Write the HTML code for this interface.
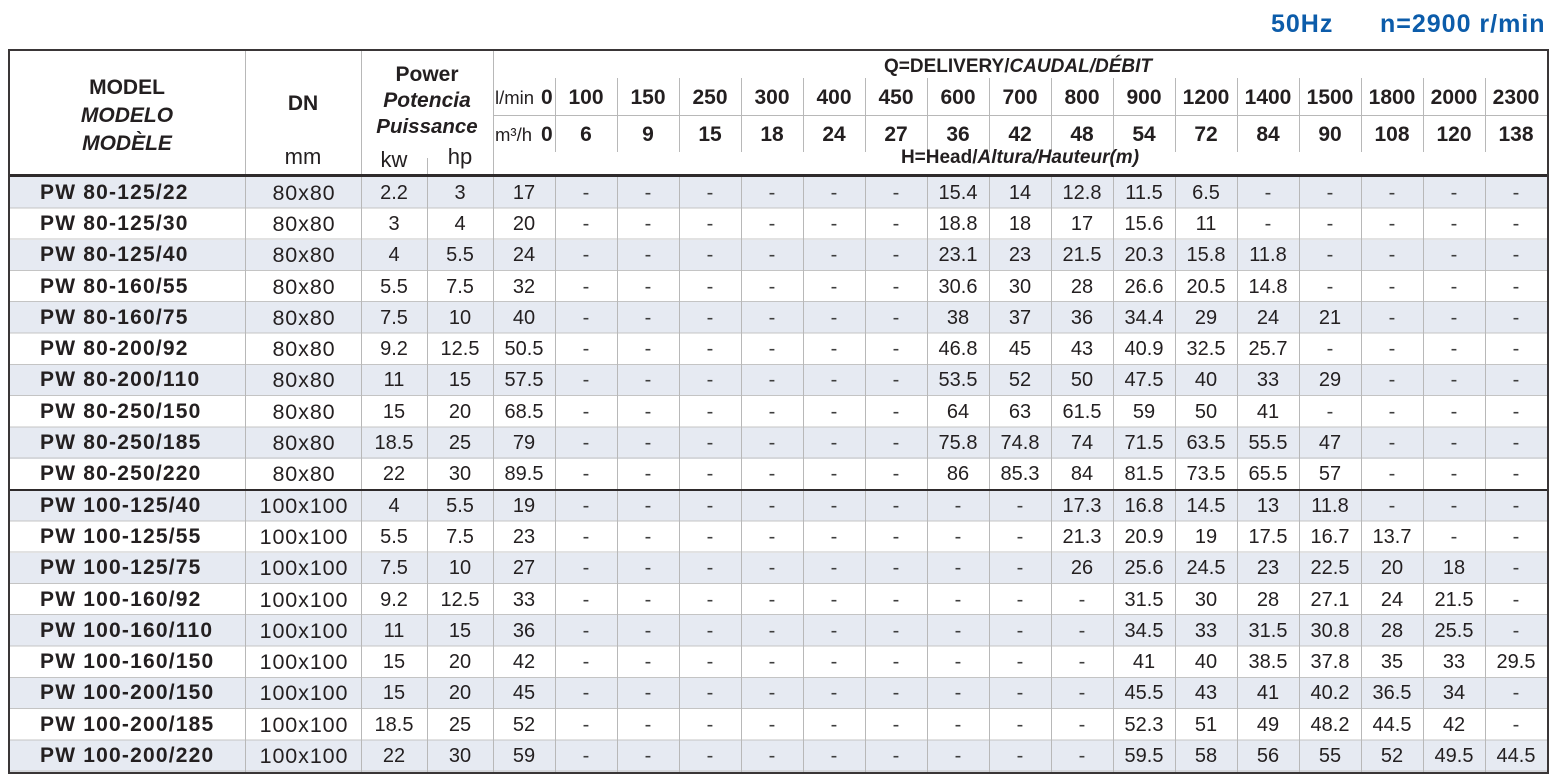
<!DOCTYPE html>
<html><head><meta charset="utf-8">
<style>
*{margin:0;padding:0;box-sizing:border-box}
html,body{width:1557px;height:781px;background:#fff;overflow:hidden}
body{position:relative;font-family:"Liberation Sans",sans-serif;color:#231f20}
.c{position:absolute;width:300px;margin-left:-150px;text-align:center;line-height:24px;margin-top:-12px;white-space:nowrap}
.l{position:absolute;line-height:24px;margin-top:-12px;white-space:nowrap}
.b21{font-weight:bold;font-size:21px}
.bi{font-weight:bold;font-style:italic;font-size:21px}
.r22{font-size:22px}
.v{position:absolute;width:1px;background:#b8b8b8}
.hn{position:absolute;left:555px;width:992px;border-collapse:collapse;table-layout:fixed}
.hn td{text-align:center;font-weight:bold;font-size:21px;padding:0;white-space:nowrap}
table.b{position:absolute;left:10px;top:177px;width:1537px;border-collapse:collapse;table-layout:fixed}
table.b td{height:31.3px;padding:0;text-align:center;font-size:20px;line-height:22px;vertical-align:middle;overflow:hidden;white-space:nowrap}
table.b td:first-child{text-align:left;padding-left:30px;font-weight:bold;font-size:21px;letter-spacing:1.2px}
table.b td:nth-child(2){font-size:21.5px;letter-spacing:0.9px;padding-left:1px}
tr.g td{background:#e6eaf2}
.d{color:#3e3e3e}
</style></head><body>

<div style="position:absolute;left:1271px;top:9px;font-weight:bold;font-size:25px;line-height:30px;color:#0c5caa;letter-spacing:1px">50Hz</div>
<div style="position:absolute;left:1380px;top:9px;font-weight:bold;font-size:25px;line-height:30px;color:#0c5caa;letter-spacing:1px">n=2900 r/min</div>

<table class="b">
<colgroup><col style="width:236px"><col style="width:115px"><col style="width:66px"><col style="width:66px"><col style="width:62px"><col span="16" style="width:62px"></colgroup>
<tr class="g"><td>PW 80-125/22</td><td>80x80</td><td>2.2</td><td>3</td><td>17</td><td class="d">-</td><td class="d">-</td><td class="d">-</td><td class="d">-</td><td class="d">-</td><td class="d">-</td><td>15.4</td><td>14</td><td>12.8</td><td>11.5</td><td>6.5</td><td class="d">-</td><td class="d">-</td><td class="d">-</td><td class="d">-</td><td class="d">-</td></tr>
<tr><td>PW 80-125/30</td><td>80x80</td><td>3</td><td>4</td><td>20</td><td class="d">-</td><td class="d">-</td><td class="d">-</td><td class="d">-</td><td class="d">-</td><td class="d">-</td><td>18.8</td><td>18</td><td>17</td><td>15.6</td><td>11</td><td class="d">-</td><td class="d">-</td><td class="d">-</td><td class="d">-</td><td class="d">-</td></tr>
<tr class="g"><td>PW 80-125/40</td><td>80x80</td><td>4</td><td>5.5</td><td>24</td><td class="d">-</td><td class="d">-</td><td class="d">-</td><td class="d">-</td><td class="d">-</td><td class="d">-</td><td>23.1</td><td>23</td><td>21.5</td><td>20.3</td><td>15.8</td><td>11.8</td><td class="d">-</td><td class="d">-</td><td class="d">-</td><td class="d">-</td></tr>
<tr><td>PW 80-160/55</td><td>80x80</td><td>5.5</td><td>7.5</td><td>32</td><td class="d">-</td><td class="d">-</td><td class="d">-</td><td class="d">-</td><td class="d">-</td><td class="d">-</td><td>30.6</td><td>30</td><td>28</td><td>26.6</td><td>20.5</td><td>14.8</td><td class="d">-</td><td class="d">-</td><td class="d">-</td><td class="d">-</td></tr>
<tr class="g"><td>PW 80-160/75</td><td>80x80</td><td>7.5</td><td>10</td><td>40</td><td class="d">-</td><td class="d">-</td><td class="d">-</td><td class="d">-</td><td class="d">-</td><td class="d">-</td><td>38</td><td>37</td><td>36</td><td>34.4</td><td>29</td><td>24</td><td>21</td><td class="d">-</td><td class="d">-</td><td class="d">-</td></tr>
<tr><td>PW 80-200/92</td><td>80x80</td><td>9.2</td><td>12.5</td><td>50.5</td><td class="d">-</td><td class="d">-</td><td class="d">-</td><td class="d">-</td><td class="d">-</td><td class="d">-</td><td>46.8</td><td>45</td><td>43</td><td>40.9</td><td>32.5</td><td>25.7</td><td class="d">-</td><td class="d">-</td><td class="d">-</td><td class="d">-</td></tr>
<tr class="g"><td>PW 80-200/110</td><td>80x80</td><td>11</td><td>15</td><td>57.5</td><td class="d">-</td><td class="d">-</td><td class="d">-</td><td class="d">-</td><td class="d">-</td><td class="d">-</td><td>53.5</td><td>52</td><td>50</td><td>47.5</td><td>40</td><td>33</td><td>29</td><td class="d">-</td><td class="d">-</td><td class="d">-</td></tr>
<tr><td>PW 80-250/150</td><td>80x80</td><td>15</td><td>20</td><td>68.5</td><td class="d">-</td><td class="d">-</td><td class="d">-</td><td class="d">-</td><td class="d">-</td><td class="d">-</td><td>64</td><td>63</td><td>61.5</td><td>59</td><td>50</td><td>41</td><td class="d">-</td><td class="d">-</td><td class="d">-</td><td class="d">-</td></tr>
<tr class="g"><td>PW 80-250/185</td><td>80x80</td><td>18.5</td><td>25</td><td>79</td><td class="d">-</td><td class="d">-</td><td class="d">-</td><td class="d">-</td><td class="d">-</td><td class="d">-</td><td>75.8</td><td>74.8</td><td>74</td><td>71.5</td><td>63.5</td><td>55.5</td><td>47</td><td class="d">-</td><td class="d">-</td><td class="d">-</td></tr>
<tr><td>PW 80-250/220</td><td>80x80</td><td>22</td><td>30</td><td>89.5</td><td class="d">-</td><td class="d">-</td><td class="d">-</td><td class="d">-</td><td class="d">-</td><td class="d">-</td><td>86</td><td>85.3</td><td>84</td><td>81.5</td><td>73.5</td><td>65.5</td><td>57</td><td class="d">-</td><td class="d">-</td><td class="d">-</td></tr>
<tr class="g"><td>PW 100-125/40</td><td>100x100</td><td>4</td><td>5.5</td><td>19</td><td class="d">-</td><td class="d">-</td><td class="d">-</td><td class="d">-</td><td class="d">-</td><td class="d">-</td><td class="d">-</td><td class="d">-</td><td>17.3</td><td>16.8</td><td>14.5</td><td>13</td><td>11.8</td><td class="d">-</td><td class="d">-</td><td class="d">-</td></tr>
<tr><td>PW 100-125/55</td><td>100x100</td><td>5.5</td><td>7.5</td><td>23</td><td class="d">-</td><td class="d">-</td><td class="d">-</td><td class="d">-</td><td class="d">-</td><td class="d">-</td><td class="d">-</td><td class="d">-</td><td>21.3</td><td>20.9</td><td>19</td><td>17.5</td><td>16.7</td><td>13.7</td><td class="d">-</td><td class="d">-</td></tr>
<tr class="g"><td>PW 100-125/75</td><td>100x100</td><td>7.5</td><td>10</td><td>27</td><td class="d">-</td><td class="d">-</td><td class="d">-</td><td class="d">-</td><td class="d">-</td><td class="d">-</td><td class="d">-</td><td class="d">-</td><td>26</td><td>25.6</td><td>24.5</td><td>23</td><td>22.5</td><td>20</td><td>18</td><td class="d">-</td></tr>
<tr><td>PW 100-160/92</td><td>100x100</td><td>9.2</td><td>12.5</td><td>33</td><td class="d">-</td><td class="d">-</td><td class="d">-</td><td class="d">-</td><td class="d">-</td><td class="d">-</td><td class="d">-</td><td class="d">-</td><td class="d">-</td><td>31.5</td><td>30</td><td>28</td><td>27.1</td><td>24</td><td>21.5</td><td class="d">-</td></tr>
<tr class="g"><td>PW 100-160/110</td><td>100x100</td><td>11</td><td>15</td><td>36</td><td class="d">-</td><td class="d">-</td><td class="d">-</td><td class="d">-</td><td class="d">-</td><td class="d">-</td><td class="d">-</td><td class="d">-</td><td class="d">-</td><td>34.5</td><td>33</td><td>31.5</td><td>30.8</td><td>28</td><td>25.5</td><td class="d">-</td></tr>
<tr><td>PW 100-160/150</td><td>100x100</td><td>15</td><td>20</td><td>42</td><td class="d">-</td><td class="d">-</td><td class="d">-</td><td class="d">-</td><td class="d">-</td><td class="d">-</td><td class="d">-</td><td class="d">-</td><td class="d">-</td><td>41</td><td>40</td><td>38.5</td><td>37.8</td><td>35</td><td>33</td><td>29.5</td></tr>
<tr class="g"><td>PW 100-200/150</td><td>100x100</td><td>15</td><td>20</td><td>45</td><td class="d">-</td><td class="d">-</td><td class="d">-</td><td class="d">-</td><td class="d">-</td><td class="d">-</td><td class="d">-</td><td class="d">-</td><td class="d">-</td><td>45.5</td><td>43</td><td>41</td><td>40.2</td><td>36.5</td><td>34</td><td class="d">-</td></tr>
<tr><td>PW 100-200/185</td><td>100x100</td><td>18.5</td><td>25</td><td>52</td><td class="d">-</td><td class="d">-</td><td class="d">-</td><td class="d">-</td><td class="d">-</td><td class="d">-</td><td class="d">-</td><td class="d">-</td><td class="d">-</td><td>52.3</td><td>51</td><td>49</td><td>48.2</td><td>44.5</td><td>42</td><td class="d">-</td></tr>
<tr class="g"><td>PW 100-200/220</td><td>100x100</td><td>22</td><td>30</td><td>59</td><td class="d">-</td><td class="d">-</td><td class="d">-</td><td class="d">-</td><td class="d">-</td><td class="d">-</td><td class="d">-</td><td class="d">-</td><td class="d">-</td><td>59.5</td><td>58</td><td>56</td><td>55</td><td>52</td><td>49.5</td><td>44.5</td></tr>
</table>

<!-- horizontal row lines -->
<div style="position:absolute;left:10px;top:177px;width:1537px;height:595px;background:repeating-linear-gradient(180deg,transparent 0,transparent 30.3px,#c4c4c4 30.3px,#c4c4c4 31.3px)"></div>

<!-- vertical lines full height -->
<div class="v" style="left:245px;top:51px;height:721px"></div>
<div class="v" style="left:361px;top:51px;height:721px"></div>
<div class="v" style="left:493px;top:51px;height:721px"></div>
<div class="v" style="left:427px;top:158px;height:614px"></div>
<!-- body vertical lines -->
<div class="v" style="left:555px;top:177px;height:595px"></div>
<div class="v" style="left:617px;top:177px;height:595px"></div>
<div class="v" style="left:679px;top:177px;height:595px"></div>
<div class="v" style="left:741px;top:177px;height:595px"></div>
<div class="v" style="left:803px;top:177px;height:595px"></div>
<div class="v" style="left:865px;top:177px;height:595px"></div>
<div class="v" style="left:927px;top:177px;height:595px"></div>
<div class="v" style="left:989px;top:177px;height:595px"></div>
<div class="v" style="left:1051px;top:177px;height:595px"></div>
<div class="v" style="left:1113px;top:177px;height:595px"></div>
<div class="v" style="left:1175px;top:177px;height:595px"></div>
<div class="v" style="left:1237px;top:177px;height:595px"></div>
<div class="v" style="left:1299px;top:177px;height:595px"></div>
<div class="v" style="left:1361px;top:177px;height:595px"></div>
<div class="v" style="left:1423px;top:177px;height:595px"></div>
<div class="v" style="left:1485px;top:177px;height:595px"></div>
<!-- header vertical lines -->
<div class="v" style="left:555px;top:78px;height:74px"></div>
<div class="v" style="left:617px;top:78px;height:74px"></div>
<div class="v" style="left:679px;top:78px;height:74px"></div>
<div class="v" style="left:741px;top:78px;height:74px"></div>
<div class="v" style="left:803px;top:78px;height:74px"></div>
<div class="v" style="left:865px;top:78px;height:74px"></div>
<div class="v" style="left:927px;top:78px;height:74px"></div>
<div class="v" style="left:989px;top:78px;height:74px"></div>
<div class="v" style="left:1051px;top:78px;height:74px"></div>
<div class="v" style="left:1113px;top:78px;height:74px"></div>
<div class="v" style="left:1175px;top:78px;height:74px"></div>
<div class="v" style="left:1237px;top:78px;height:74px"></div>
<div class="v" style="left:1299px;top:78px;height:74px"></div>
<div class="v" style="left:1361px;top:78px;height:74px"></div>
<div class="v" style="left:1423px;top:78px;height:74px"></div>
<div class="v" style="left:1485px;top:78px;height:74px"></div>
<!-- header horizontal line -->
<div style="position:absolute;left:493px;top:115px;width:1054px;height:1px;background:#b8b8b8"></div>

<!-- thick lines -->
<div style="position:absolute;left:10px;top:174px;width:1537px;height:3px;background:#2e2a2b"></div>
<div style="position:absolute;left:10px;top:489px;width:1537px;height:2px;background:#2e2a2b"></div>

<!-- outer border -->
<div style="position:absolute;left:8px;top:49px;width:1541px;height:725px;border:2px solid #3a3637"></div>

<!-- header labels -->
<div class="c b21" style="left:127px;top:88px">MODEL</div>
<div class="c bi" style="left:127px;top:116px">MODELO</div>
<div class="c bi" style="left:127px;top:144px">MODÈLE</div>
<div class="c b21" style="left:303px;top:104px">DN</div>
<div class="c r22" style="left:303px;top:157px">mm</div>
<div class="c b21" style="left:427px;top:75px">Power</div>
<div class="c bi" style="left:427px;top:101px">Potencia</div>
<div class="c bi" style="left:427px;top:127px;font-size:20.5px">Puissance</div>
<div class="c r22" style="left:394px;top:160px">kw</div>
<div class="c r22" style="left:460px;top:157px">hp</div>

<div class="c" style="left:1018px;top:67px;font-weight:bold;font-size:19px">Q=DELIVERY/<i>CAUDAL/DÉBIT</i></div>
<div class="c" style="left:1020px;top:158px;font-weight:bold;font-size:19px">H=Head/<i>Altura/Hauteur(m)</i></div>

<div class="l" style="left:495px;top:98px;font-size:18.5px">l/min</div>
<div class="l" style="left:541px;top:98px;font-size:21px;font-weight:bold">0</div>
<div class="l" style="left:495px;top:135px;font-size:18.5px">m³/h</div>
<div class="l" style="left:541px;top:135px;font-size:21px;font-weight:bold">0</div>

<table class="hn" style="top:80px">
<colgroup><col span="16" style="width:62px"></colgroup>
<tr style="height:36px"><td>100</td><td>150</td><td>250</td><td>300</td><td>400</td><td>450</td><td>600</td><td>700</td><td>800</td><td>900</td><td>1200</td><td>1400</td><td>1500</td><td>1800</td><td>2000</td><td>2300</td></tr>
</table>
<table class="hn" style="top:117px">
<colgroup><col span="16" style="width:62px"></colgroup>
<tr style="height:36px"><td>6</td><td>9</td><td>15</td><td>18</td><td>24</td><td>27</td><td>36</td><td>42</td><td>48</td><td>54</td><td>72</td><td>84</td><td>90</td><td>108</td><td>120</td><td>138</td></tr>
</table>

</body></html>
